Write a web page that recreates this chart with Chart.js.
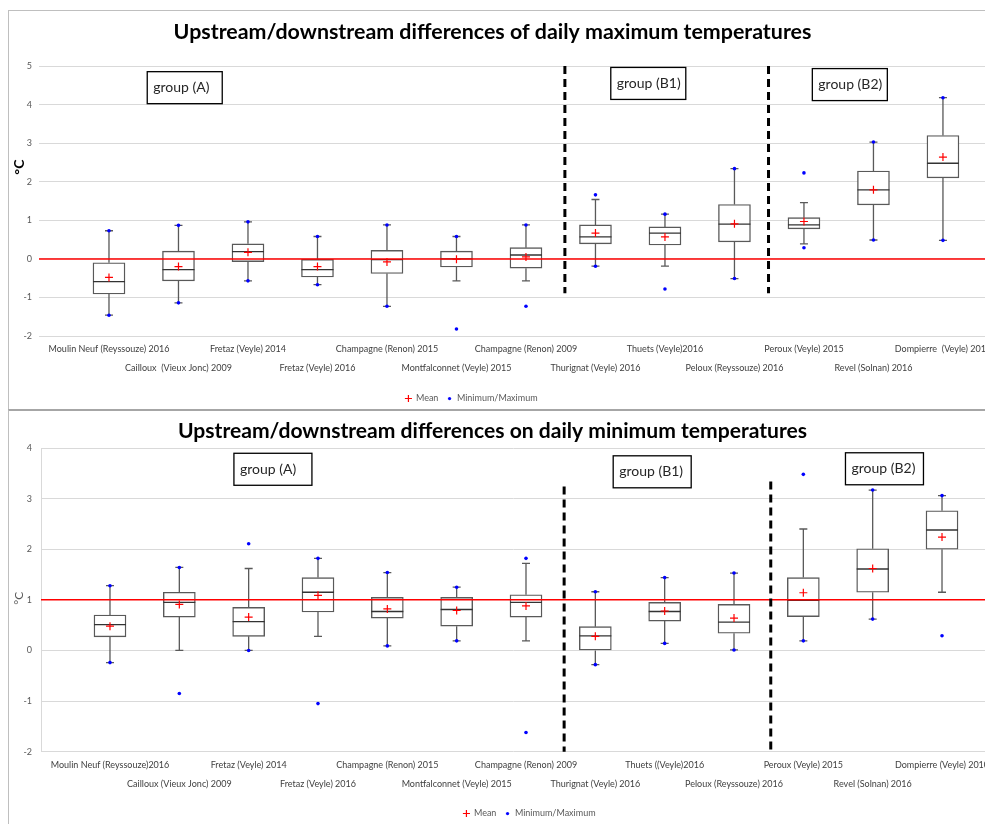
<!DOCTYPE html>
<html>
<head>
<meta charset="utf-8">
<script src="https://cdn.jsdelivr.net/npm/chart.js@4.4.0/dist/chart.umd.min.js"></script>
<style>
html, body { margin: 0; padding: 0; background: #fff; overflow: hidden; }
#page { position: relative; width: 985px; height: 824px; overflow: hidden; }
#frameTop { position: absolute; left: 8px; top: 10px; width: 1000px; height: 398px; border-left: 1px solid #bfbfbf; border-top: 1px solid #bfbfbf; }
#frameBot { position: absolute; left: 8px; top: 409px; width: 1000px; height: 420px; border-left: 1px solid #bfbfbf; border-top: 2px solid #a6a6a6; }
.wrap { position: absolute; left: 0; width: 985px; }
#wrapTop { top: 0; height: 413px; }
#wrapBot { top: 410px; height: 418px; }
</style>
</head>
<body>
<div id="page">
	<div id="frameTop"></div>
	<div id="frameBot"></div>
	<div class="wrap" id="wrapTop"><canvas id="maxChart"></canvas></div>
	<div class="wrap" id="wrapBot"><canvas id="minChart"></canvas></div>
</div>
<script>
// ---- daily maximum temperatures (upper panel) ----
const maxLabels = ['Moulin Neuf (Reyssouze) 2016', 'Cailloux  (Vieux Jonc) 2009', 'Fretaz (Veyle) 2014', 'Fretaz (Veyle) 2016',
	'Champagne (Renon) 2015', 'Montfalconnet (Veyle) 2015', 'Champagne (Renon) 2009', 'Thurignat (Veyle) 2016',
	'Thuets (Veyle)2016', 'Peloux (Reyssouze) 2016', 'Peroux (Veyle) 2015', 'Revel (Solnan) 2016', 'Dompierre  (Veyle) 2010'];
const maxQ1 = [-0.91, -0.57, -0.07, -0.47, -0.38, -0.21, -0.24, 0.39, 0.36, 0.44, 0.78, 1.40, 2.10];
const maxMedian = [-0.59, -0.28, 0.19, -0.28, -0.02, 0.00, 0.10, 0.57, 0.67, 0.90, 0.88, 1.79, 2.48];
const maxQ3 = [-0.10, 0.20, 0.39, 0.00, 0.22, 0.20, 0.29, 0.88, 0.83, 1.41, 1.07, 2.28, 3.20];
const maxWhiskerLow = [-1.46, -1.14, -0.57, -0.67, -1.23, -0.57, -0.57, -0.19, -0.19, -0.51, 0.39, 0.49, 0.48];
const maxWhiskerHigh = [0.73, 0.87, 0.96, 0.58, 0.88, 0.58, 0.88, 1.54, 1.16, 2.34, 1.46, 3.03, 4.18];
const maxMean = [-0.48, -0.20, 0.17, -0.20, -0.08, -0.01, 0.05, 0.67, 0.57, 0.91, 0.97, 1.79, 2.64];
const maxMinimum = [-1.46, -1.14, -0.57, -0.67, -1.23, -1.82, -1.23, -0.19, -0.78, -0.51, 0.29, 0.49, 0.48];
const maxMaximum = [0.73, 0.87, 0.96, 0.58, 0.88, 0.58, 0.88, 1.66, 1.16, 2.34, 2.23, 3.03, 4.18];

// ---- daily minimum temperatures (lower panel) ----
const minLabels = ['Moulin Neuf (Reyssouze)2016', 'Cailloux (Vieux Jonc) 2009', 'Fretaz (Veyle) 2014', 'Fretaz (Veyle) 2016',
	'Champagne (Renon) 2015', 'Montfalconnet (Veyle) 2015', 'Champagne (Renon) 2009', 'Thurignat (Veyle) 2016',
	'Thuets ((Veyle)2016', 'Peloux (Reyssouze) 2016', 'Peroux (Veyle) 2015', 'Revel (Solnan) 2016', 'Dompierre (Veyle) 2010'];
const minQ1 = [0.27, 0.66, 0.28, 0.76, 0.64, 0.48, 0.66, 0.00, 0.58, 0.34, 0.67, 1.15, 2.00];
const minMedian = [0.51, 0.95, 0.57, 1.15, 0.77, 0.81, 0.95, 0.29, 0.77, 0.56, 0.99, 1.61, 2.38];
const minQ3 = [0.70, 1.15, 0.85, 1.44, 1.05, 1.05, 1.10, 0.47, 0.95, 0.91, 1.44, 2.01, 2.76];
const minWhiskerLow = [-0.24, 0.00, 0.00, 0.28, 0.09, 0.19, 0.19, -0.28, 0.14, 0.01, 0.19, 0.62, 1.15];
const minWhiskerHigh = [1.28, 1.64, 1.62, 1.82, 1.54, 1.25, 1.72, 1.16, 1.44, 1.53, 2.40, 3.17, 3.06];
const minMean = [0.48, 0.91, 0.66, 1.09, 0.82, 0.79, 0.88, 0.28, 0.78, 0.64, 1.14, 1.62, 2.24];
const minMinimum = [-0.24, -0.85, 0.00, -1.05, 0.09, 0.19, -1.62, -0.28, 0.14, 0.01, 0.19, 0.62, 0.29];
const minMaximum = [1.28, 1.64, 2.11, 1.82, 1.54, 1.25, 1.82, 1.16, 1.44, 1.53, 3.48, 3.17, 3.06];

// group annotations and separators (x in category index, y in °C)
const groupNames = ['group (A)', 'group (B1)', 'group (B2)'];
const maxGroupX = [1.09, 7.76, 10.66];
const maxGroupY = [4.44, 4.55, 4.52];
const minGroupX = [2.35, 7.82, 11.17];
const minGroupY = [3.58, 3.53, 3.59];
const maxDividerX = [6.56, 9.49];
const maxDividerTop = [5, 5];
const maxDividerBottom = [-0.89, -0.89];
const minDividerX = [6.55, 9.53];
const minDividerTop = [3.24, 3.34];
const minDividerBottom = [-2, -2];

function dotImage(color, r){
	const c = document.createElement('canvas');
	c.width = c.height = 2*r + 2;
	const g = c.getContext('2d');
	g.fillStyle = color;
	g.beginPath(); g.arc(r + 1, r + 1, r, 0, Math.PI*2); g.fill();
	return c;
}

// whiskers, medians, reference line, separators, group boxes
function makeExtras(p){
	return {
		id: 'boxExtras',
		afterLayout(chart){
			chart.legend.left += p.legendShift;
			chart.legend.right += p.legendShift;
		},
		afterDatasetDraw(chart, args){
			if(args.index !== 0) return;
			const ctx = chart.ctx, a = chart.chartArea;
			const x = chart.scales.x, y = chart.scales.y;
			ctx.save();
			ctx.lineWidth = 1.3;
			args.meta.data.forEach(function(bar, i){
				const cx = bar.x, half = bar.width/2, cap = 4;
				const top = y.getPixelForValue(p.q3[i]), bottom = y.getPixelForValue(p.q1[i]);
				const hi = y.getPixelForValue(p.whiskerHigh[i]), lo = y.getPixelForValue(p.whiskerLow[i]);
				ctx.strokeStyle = '#595959';
				ctx.beginPath();
				ctx.moveTo(cx, top); ctx.lineTo(cx, hi);
				ctx.moveTo(cx - cap, hi); ctx.lineTo(cx + cap, hi);
				ctx.moveTo(cx, bottom); ctx.lineTo(cx, lo);
				ctx.moveTo(cx - cap, lo); ctx.lineTo(cx + cap, lo);
				ctx.stroke();
				const med = y.getPixelForValue(p.median[i]);
				ctx.strokeStyle = '#333333';
				ctx.beginPath(); ctx.moveTo(cx - half, med); ctx.lineTo(cx + half, med); ctx.stroke();
			});
			const ry = y.getPixelForValue(p.refValue);
			ctx.strokeStyle = '#ff0000'; ctx.lineWidth = 1.5;
			ctx.beginPath(); ctx.moveTo(a.left, ry); ctx.lineTo(a.right, ry); ctx.stroke();
			ctx.strokeStyle = '#000000'; ctx.lineWidth = 3; ctx.setLineDash([8, 5]);
			p.dividerX.forEach(function(v, i){
				const px = x.getPixelForValue(v);
				ctx.beginPath();
				ctx.moveTo(px, y.getPixelForValue(p.dividerTop[i]));
				ctx.lineTo(px, y.getPixelForValue(p.dividerBottom[i]));
				ctx.stroke();
			});
			ctx.restore();
		},
		afterDatasetsDraw(chart){
			const ctx = chart.ctx;
			const x = chart.scales.x, y = chart.scales.y;
			ctx.save();
			ctx.font = '14px Lato';
			ctx.textAlign = 'left'; ctx.textBaseline = 'middle';
			groupNames.forEach(function(g, i){
				const cx = x.getPixelForValue(p.groupX[i]), cy = y.getPixelForValue(p.groupY[i]);
				const w = p.groupW, h = 32;
				ctx.fillStyle = '#ffffff'; ctx.fillRect(cx - w/2, cy - h/2, w, h);
				ctx.strokeStyle = '#000000'; ctx.lineWidth = 1.3; ctx.strokeRect(cx - w/2, cy - h/2, w, h);
				ctx.fillStyle = '#262626'; ctx.fillText(g, cx - w/2 + 6, cy);
			});
			// axis unit
			ctx.translate(p.unitX, y.getPixelForValue(p.unitY));
			ctx.rotate(-Math.PI/2);
			ctx.textAlign = 'center';
			ctx.font = p.unitFont; ctx.fillStyle = p.unitColor;
			ctx.fillText('°C', 0, 0);
			ctx.restore();
		}
	};
}

function buildPanel(canvasId, p){
	const idx = p.labels.map(function(l, i){ return i; });
	const dot = dotImage('#0000ff', 1.6);
	return new Chart(document.getElementById(canvasId), {
		type: 'bar',
		data: {
			datasets: [
				{ label: '', data: idx.map(i => ({x: i, y: [p.q1[i], p.q3[i]]})), backgroundColor: '#ffffff',
					borderColor: '#595959', borderWidth: 1.4, borderSkipped: false, barThickness: 32, order: 3 },
				{ type: 'line', label: 'Mean', data: idx.map(i => ({x: i, y: p.mean[i]})), showLine: false,
					pointStyle: 'cross', pointRadius: 4, pointBorderWidth: 1.2, borderColor: '#ff0000', backgroundColor: '#ff0000', order: 1 },
				{ type: 'line', label: 'Minimum/Maximum',
					data: idx.map(i => ({x: i, y: p.minimum[i]})).concat(idx.map(i => ({x: i, y: p.maximum[i]}))),
					showLine: false, pointStyle: 'circle', pointRadius: 1.8, pointBorderWidth: 0,
					borderColor: '#0000ff', backgroundColor: '#0000ff', order: 2 }
			]
		},
		options: {
			responsive: true,
			maintainAspectRatio: false,
			animation: false,
			events: [],
			layout: { padding: 0, autoPadding: false },
			scales: {
				x: {
					type: 'linear', min: p.xMin, max: p.xMax, offset: false,
					grid: { display: false, drawTicks: false, offset: false }, border: { display: false },
					afterBuildTicks: function(s){ s.ticks = idx.map(i => ({value: i})); },
					afterFit: function(s){ s.height = p.xAxisH; s.paddingLeft = 0; s.paddingRight = 0; },
					ticks: {
						autoSkip: false, maxRotation: 0, minRotation: 0, padding: 3.5, color: '#404040',
						font: { family: 'Lato', size: 9, lineHeight: 2.11 },
						callback: function(v){ return v % 2 === 0 ? [p.labels[v], ''] : ['', p.labels[v]]; }
					}
				},
				y: {
					min: p.yMin, max: p.yMax,
					grid: { color: '#d9d9d9', drawTicks: false },
					border: { display: p.yBorder, color: '#d9d9d9' },
					afterFit: function(s){ s.width = p.yAxisW; s.paddingTop = 0; s.paddingBottom = 0; },
					ticks: { stepSize: 1, padding: p.yTickPad, color: '#595959', font: { family: 'Lato', size: 9 } }
				}
			},
			plugins: {
				title: { display: true, text: p.title, color: '#000000',
					font: { family: 'Lato', size: p.titleSize, weight: 'bold', lineHeight: 1.2 },
					padding: { top: p.titleTop, bottom: p.titleBottom } },
				legend: {
					position: 'bottom',
					labels: {
						usePointStyle: true, boxWidth: 6, boxHeight: 5, padding: 8, color: '#595959',
						font: { family: 'Lato', size: 9 },
						generateLabels: function(chart){
							return Chart.defaults.plugins.legend.labels.generateLabels(chart)
								.filter(it => it.text)
								.map(function(it){ if(it.text === 'Minimum/Maximum') it.pointStyle = dot; return it; });
						}
					}
				},
				tooltip: { enabled: false }
			}
		},
		plugins: [makeExtras(p)]
	});
}

window.addEventListener('DOMContentLoaded', function(){
	buildPanel('maxChart', {
		title: 'Upstream/downstream differences of daily maximum temperatures',
		labels: maxLabels, q1: maxQ1, median: maxMedian, q3: maxQ3,
		whiskerLow: maxWhiskerLow, whiskerHigh: maxWhiskerHigh, mean: maxMean,
		minimum: maxMinimum, maximum: maxMaximum,
		groupX: maxGroupX, groupY: maxGroupY, groupW: 75,
		dividerX: maxDividerX, dividerTop: maxDividerTop, dividerBottom: maxDividerBottom,
		refValue: 0, yMin: -2, yMax: 5, xMin: -1.007, xMax: 12.605,
		yAxisW: 39, yTickPad: 7, yBorder: false, xAxisH: 50,
		titleSize: 21.4, titleTop: 19, titleBottom: 21.4, legendShift: -21,
		unitX: 19, unitY: 2.38, unitFont: 'bold 14px Lato', unitColor: '#000000'
	});
	buildPanel('minChart', {
		title: 'Upstream/downstream differences on daily minimum temperatures',
		labels: minLabels, q1: minQ1, median: minMedian, q3: minQ3,
		whiskerLow: minWhiskerLow, whiskerHigh: minWhiskerHigh, mean: minMean,
		minimum: minMinimum, maximum: minMaximum,
		groupX: minGroupX, groupY: minGroupY, groupW: 78,
		dividerX: minDividerX, dividerTop: minDividerTop, dividerBottom: minDividerBottom,
		refValue: 1, yMin: -2, yMax: 4, xMin: -0.995, xMax: 12.62,
		yAxisW: 41, yTickPad: 9, yBorder: true, xAxisH: 49.3,
		titleSize: 21.1, titleTop: 9, titleBottom: 3.7, legendShift: 37,
		unitX: 19, unitY: 1.03, unitFont: '12px Lato', unitColor: '#595959'
	});
});
</script>
</body>
</html>
